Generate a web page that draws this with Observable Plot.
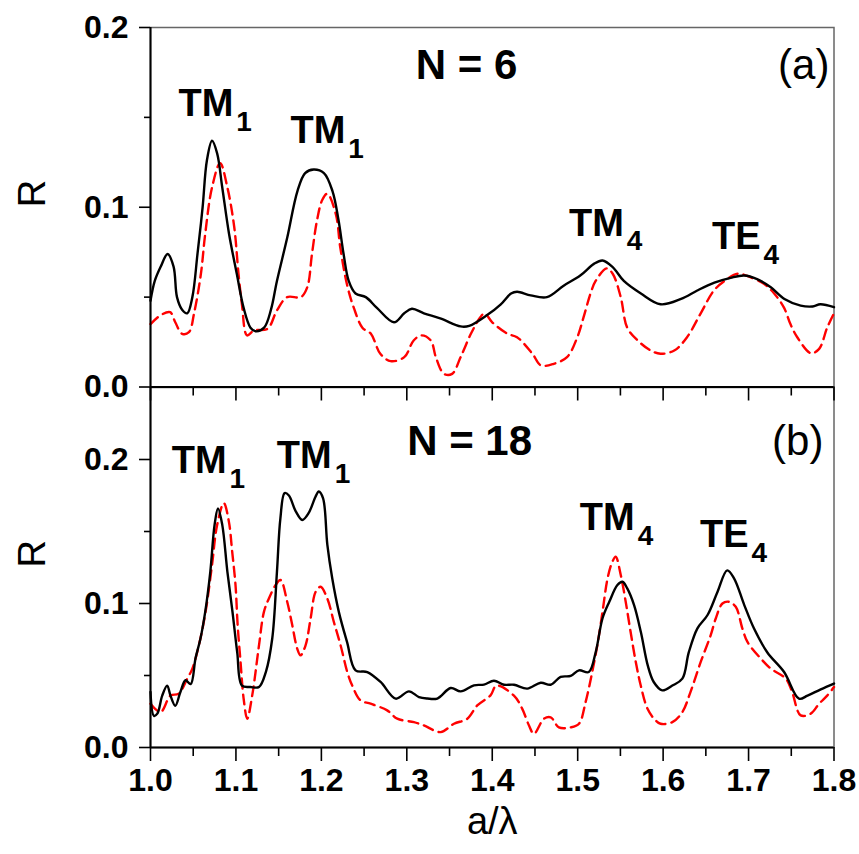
<!DOCTYPE html>
<html><head><meta charset="utf-8">
<script src="https://cdn.jsdelivr.net/npm/d3@7"></script>
<script src="https://cdn.jsdelivr.net/npm/@observablehq/plot@0.6"></script>
<style>
body{margin:0;background:#fff;}
#chart{position:relative;width:859px;height:854px;overflow:hidden;background:#fff;}
#chart svg{position:absolute;left:0;}
</style></head><body><div id="chart"></div>
<script>
// ---- axis ticks ----
const xMajorTicks = [1.0, 1.1, 1.2, 1.3, 1.4, 1.5, 1.6, 1.7, 1.8];
const xMinorTicks = [1.05, 1.15, 1.25, 1.35, 1.45, 1.55, 1.65, 1.75];
const yMajorTicks = [0, 0.1, 0.2];
const yMinorTicks = [0.05, 0.15];

// ---- panel (a), N = 6 ----
const blackA = [[1.000,0.048],[1.005,0.059],[1.012,0.067],[1.020,0.074],[1.027,0.067],[1.031,0.050],[1.037,0.043],[1.043,0.041],[1.049,0.050],[1.055,0.074],[1.061,0.100],[1.066,0.126],[1.072,0.137],[1.078,0.130],[1.084,0.111],[1.092,0.085],[1.101,0.063],[1.109,0.044],[1.117,0.033],[1.123,0.031],[1.133,0.033],[1.141,0.043],[1.148,0.059],[1.160,0.083],[1.172,0.109],[1.181,0.119],[1.191,0.121],[1.203,0.119],[1.213,0.109],[1.220,0.093],[1.226,0.074],[1.232,0.059],[1.240,0.052],[1.252,0.050],[1.265,0.044],[1.285,0.036],[1.297,0.041],[1.306,0.0435],[1.320,0.041],[1.340,0.038],[1.363,0.0337],[1.373,0.034],[1.394,0.040],[1.410,0.046],[1.422,0.052],[1.429,0.053],[1.445,0.051],[1.464,0.050],[1.484,0.0565],[1.503,0.062],[1.519,0.0685],[1.529,0.0704],[1.541,0.0667],[1.554,0.059],[1.574,0.052],[1.597,0.046],[1.621,0.049],[1.640,0.0537],[1.660,0.058],[1.679,0.0607],[1.695,0.062],[1.710,0.060],[1.726,0.0555],[1.742,0.049],[1.761,0.0453],[1.775,0.0448],[1.784,0.046],[1.800,0.0444]];
const redA = [[1.000,0.035],[1.012,0.040],[1.023,0.0416],[1.029,0.036],[1.037,0.0296],[1.045,0.0305],[1.051,0.041],[1.059,0.063],[1.064,0.085],[1.072,0.111],[1.0815,0.1245],[1.090,0.111],[1.098,0.089],[1.103,0.063],[1.107,0.046],[1.113,0.0287],[1.121,0.0314],[1.137,0.0324],[1.148,0.0426],[1.160,0.050],[1.176,0.050],[1.1835,0.0555],[1.189,0.074],[1.195,0.093],[1.201,0.104],[1.207,0.1075],[1.217,0.096],[1.222,0.078],[1.230,0.057],[1.238,0.044],[1.248,0.033],[1.258,0.0296],[1.269,0.0185],[1.281,0.0144],[1.297,0.0166],[1.308,0.0259],[1.317,0.0287],[1.328,0.0259],[1.334,0.0166],[1.3435,0.0073],[1.353,0.0073],[1.363,0.0166],[1.375,0.0296],[1.386,0.0388],[1.391,0.041],[1.400,0.036],[1.418,0.0296],[1.429,0.0277],[1.447,0.0185],[1.457,0.012],[1.472,0.0129],[1.4875,0.0166],[1.4996,0.0277],[1.507,0.039],[1.515,0.052],[1.521,0.059],[1.534,0.066],[1.541,0.063],[1.5504,0.050],[1.558,0.033],[1.570,0.026],[1.5855,0.0203],[1.597,0.0185],[1.613,0.0203],[1.628,0.0277],[1.644,0.041],[1.660,0.054],[1.675,0.060],[1.687,0.063],[1.7026,0.061],[1.718,0.0574],[1.730,0.052],[1.7416,0.044],[1.749,0.035],[1.757,0.0277],[1.773,0.0188],[1.7826,0.0212],[1.792,0.033],[1.800,0.041]];

// ---- panel (b), N = 18 ----
const blackB = [[1.000,0.0385],[1.004,0.022],[1.008,0.0235],[1.0137,0.036],[1.0195,0.043],[1.0234,0.036],[1.029,0.029],[1.035,0.0385],[1.041,0.0467],[1.047,0.044],[1.0527,0.062],[1.0585,0.0757],[1.064,0.094],[1.070,0.122],[1.075,0.1546],[1.079,0.166],[1.084,0.1546],[1.090,0.122],[1.096,0.094],[1.1015,0.066],[1.107,0.043],[1.117,0.042],[1.127,0.042],[1.135,0.0524],[1.1425,0.0757],[1.148,0.122],[1.152,0.159],[1.157,0.1767],[1.162,0.175],[1.170,0.164],[1.1776,0.158],[1.185,0.1627],[1.193,0.174],[1.197,0.1778],[1.202,0.173],[1.207,0.1407],[1.2127,0.1175],[1.2205,0.094],[1.230,0.0733],[1.240,0.0536],[1.2537,0.0524],[1.2693,0.0455],[1.287,0.0339],[1.3025,0.039],[1.3142,0.035],[1.324,0.034],[1.3357,0.034],[1.3513,0.0413],[1.363,0.039],[1.3786,0.0432],[1.3903,0.0437],[1.402,0.0464],[1.4137,0.0436],[1.4254,0.0436],[1.441,0.0409],[1.4567,0.045],[1.4684,0.0436],[1.480,0.049],[1.4918,0.0497],[1.5015,0.0536],[1.513,0.0524],[1.521,0.066],[1.529,0.0896],[1.537,0.1012],[1.5465,0.1128],[1.5524,0.1151],[1.558,0.1105],[1.566,0.0989],[1.574,0.080],[1.582,0.057],[1.589,0.0455],[1.599,0.0397],[1.6108,0.043],[1.6225,0.0478],[1.630,0.066],[1.640,0.0826],[1.652,0.092],[1.6636,0.108],[1.675,0.123],[1.683,0.1175],[1.695,0.0989],[1.7064,0.0826],[1.722,0.066],[1.7416,0.0524],[1.759,0.0339],[1.769,0.036],[1.7845,0.0404],[1.800,0.0444]];
const redB = [[1.000,0.0304],[1.0117,0.0246],[1.0234,0.036],[1.033,0.0374],[1.043,0.0478],[1.049,0.0548],[1.0566,0.071],[1.0644,0.094],[1.072,0.1267],[1.078,0.1546],[1.0858,0.1697],[1.0917,0.157],[1.0956,0.136],[1.0995,0.1128],[1.102,0.085],[1.1054,0.0594],[1.109,0.034],[1.1132,0.020],[1.119,0.036],[1.127,0.071],[1.1327,0.094],[1.1386,0.1035],[1.1464,0.1128],[1.1522,0.1163],[1.160,0.1012],[1.1659,0.085],[1.1717,0.0687],[1.1756,0.064],[1.1815,0.071],[1.1874,0.0896],[1.1932,0.108],[1.199,0.1116],[1.2069,0.1035],[1.2147,0.087],[1.2225,0.071],[1.2303,0.0524],[1.2361,0.043],[1.2459,0.0327],[1.2576,0.0304],[1.277,0.0258],[1.2888,0.020],[1.3083,0.0176],[1.320,0.0153],[1.3396,0.0107],[1.3552,0.0165],[1.3708,0.020],[1.3825,0.0292],[1.398,0.0362],[1.405,0.043],[1.4254,0.036],[1.435,0.027],[1.443,0.0153],[1.4488,0.0095],[1.4605,0.020],[1.4684,0.021],[1.478,0.014],[1.4918,0.014],[1.5015,0.0165],[1.5093,0.0316],[1.517,0.0524],[1.523,0.071],[1.529,0.094],[1.535,0.1175],[1.5406,0.129],[1.5445,0.1325],[1.5504,0.1198],[1.5562,0.1012],[1.562,0.080],[1.568,0.0594],[1.5738,0.043],[1.5816,0.027],[1.5894,0.020],[1.597,0.0165],[1.6108,0.0176],[1.6225,0.0246],[1.632,0.0385],[1.644,0.0594],[1.6557,0.078],[1.6616,0.0896],[1.6694,0.100],[1.677,0.1012],[1.685,0.0977],[1.6928,0.0826],[1.6987,0.0733],[1.7143,0.0618],[1.726,0.0548],[1.7436,0.0478],[1.751,0.0385],[1.761,0.0223],[1.7728,0.0235],[1.7826,0.0304],[1.792,0.036],[1.800,0.042]];

// ---- annotations (data coordinates) ----
const modeNames = ["TM", "TM", "TM", "TE"];
const modeIndex = ["1", "1", "4", "4"];
const modeXA = [1.097, 1.228, 1.554, 1.714];
const modeYA = [0.151, 0.136, 0.0843, 0.077];
const modeXB = [1.089, 1.212, 1.5667, 1.700];
const modeYB = [0.1908, 0.1943, 0.1511, 0.1393];
const titleA = {text: "N = 6", x: 1.370, y: 0.1716};
const titleB = {text: "N = 18", x: 1.3735, y: 0.2033};
const tagA = {text: "(a)", x: 1.7646, y: 0.1716};
const tagB = {text: "(b)", x: 1.7576, y: 0.2033};

const FONT = "'Liberation Sans', Arial, Helvetica, sans-serif";
const toPts = arr => arr.map(([x, y]) => ({x, y}));
const fmt = d3.format(".1f");

function panel({black, red, yMax, modeX, modeY, title, tag, height, marginTop, marginBottom, bottom}) {
  const ann = modeNames.map((m, i) => ({m, s: modeIndex[i], x: modeX[i], y: modeY[i]}));
  const marks = [
    Plot.frame({stroke: "#666", strokeWidth: 1.5}),
    Plot.line(toPts(red), {x: "x", y: "y", stroke: "#ff0000", strokeWidth: 2.4, strokeDasharray: "10,6", curve: "catmull-rom"}),
    Plot.line(toPts(black), {x: "x", y: "y", stroke: "#000", strokeWidth: 2.4, curve: "catmull-rom"}),
    Plot.ruleX([1.0], {stroke: "#000", strokeWidth: 2}),
    Plot.ruleY([0], {stroke: "#000", strokeWidth: 2}),
    Plot.axisY({ticks: yMajorTicks, tickSize: 11, tickPadding: 11, tickFormat: fmt, label: null,
      fontSize: 32, fontWeight: "bold", strokeWidth: 1.6}),
    Plot.axisY({ticks: yMinorTicks, tickSize: 6, tickFormat: () => "", label: null, strokeWidth: 1.6}),
    Plot.axisX({ticks: xMajorTicks, tickSize: 14, tickPadding: 7,
      tickFormat: bottom ? fmt : () => "", label: null, fontSize: 32, fontWeight: "bold", strokeWidth: 1.6}),
    Plot.axisX({ticks: xMinorTicks, tickSize: 9, tickFormat: () => "", label: null, strokeWidth: 1.6}),
    Plot.text([{t: "R"}], {text: "t", frameAnchor: "left", dx: -118, rotate: -90, fontSize: 38, fontWeight: "normal"}),
    Plot.text(ann, {x: "x", y: "y", text: "m", textAnchor: "end", dy: -12, fontSize: 38, fontWeight: "bold"}),
    Plot.text(ann, {x: "x", y: "y", text: "s", textAnchor: "start", dx: 3, dy: 6, fontSize: 28, fontWeight: "bold"}),
    Plot.text([title], {x: "x", y: "y", text: "text", textAnchor: "middle", dy: -13, fontSize: 42, fontWeight: "bold"}),
    Plot.text([tag], {x: "x", y: "y", text: "text", textAnchor: "middle", dy: -13, fontSize: 42, fontWeight: "normal"})
  ];
  if (bottom) marks.push(Plot.text([{t: "a/λ"}], {text: "t", frameAnchor: "bottom", dy: 86, fontSize: 38, fontWeight: "normal"}));
  return Plot.plot({
    width: 859,
    height,
    marginLeft: 150,
    marginRight: 25.5,
    marginTop,
    marginBottom,
    x: {domain: [1.0, 1.8]},
    y: {domain: [0, yMax]},
    style: {background: "none", overflow: "visible", fontFamily: FONT, color: "#000"},
    marks
  });
}

const chart = document.getElementById("chart");
const pb = panel({black: blackB, red: redB, yMax: 0.25, modeX: modeXB, modeY: modeYB, title: titleB, tag: tagB,
  height: 467, marginTop: 0, marginBottom: 107, bottom: true});
pb.style.top = "387px";
chart.appendChild(pb);
const pa = panel({black: blackA, red: redA, yMax: 0.2, modeX: modeXA, modeY: modeYA, title: titleA, tag: tagA,
  height: 387, marginTop: 27, marginBottom: 0.5, bottom: false});
pa.style.top = "0px";
chart.appendChild(pa);
</script></body></html>
